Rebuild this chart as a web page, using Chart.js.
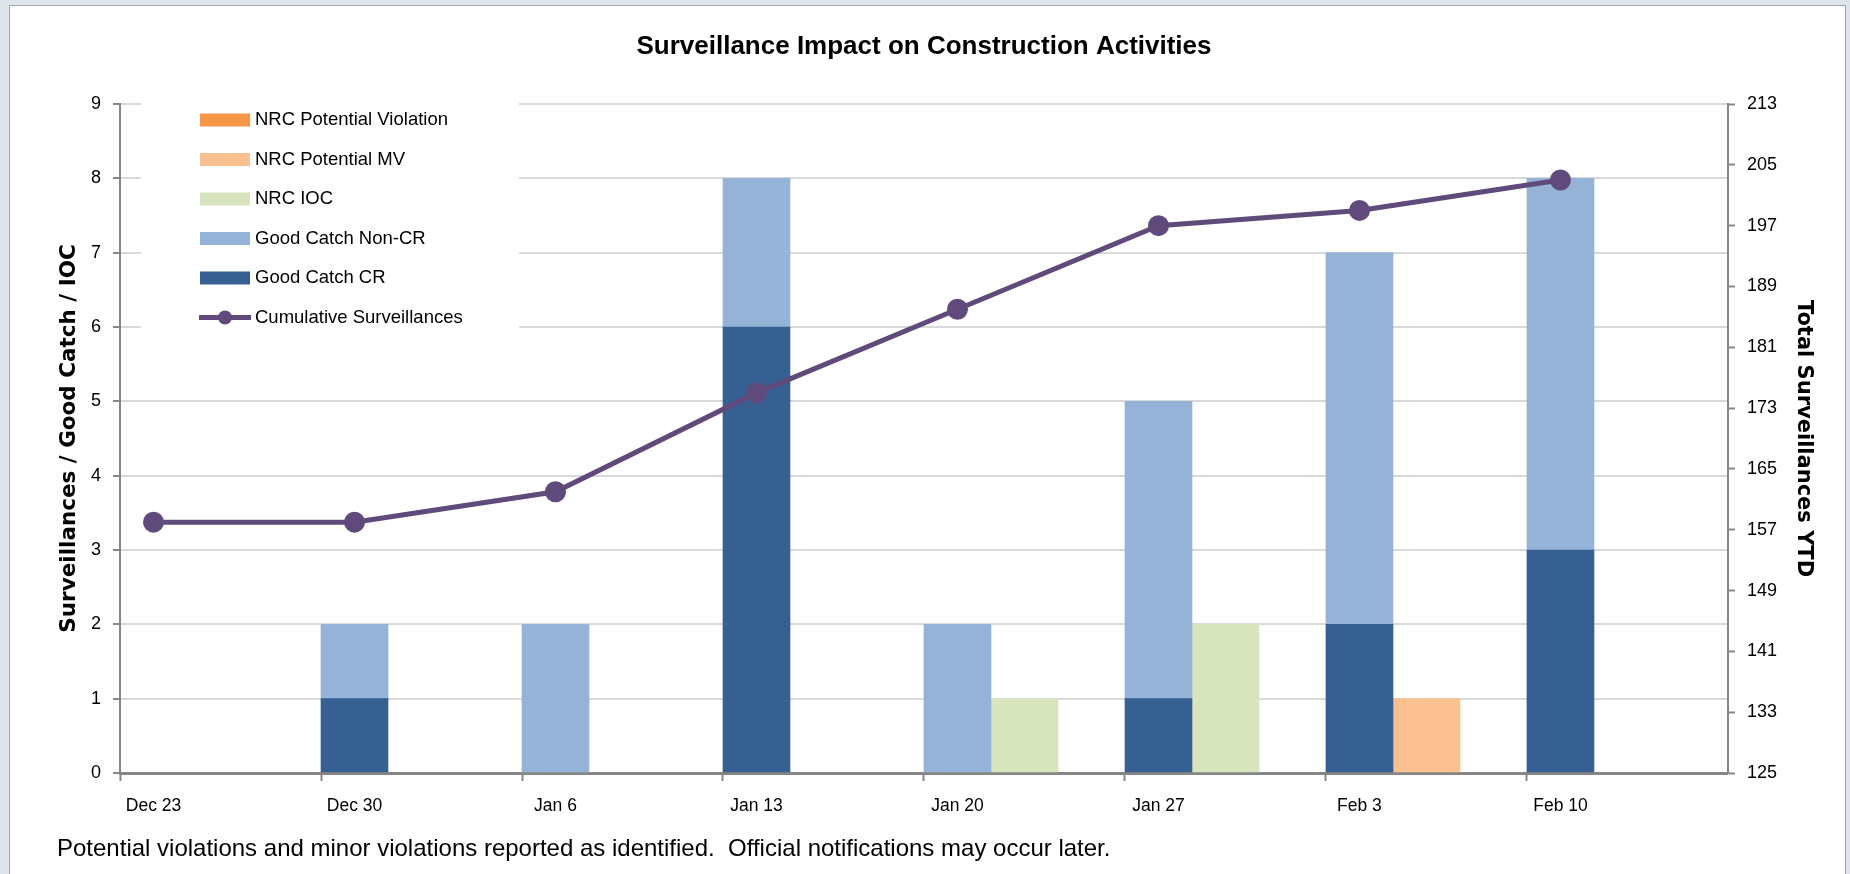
<!DOCTYPE html>
<html lang="en">
<head>
  <meta charset="UTF-8" />
  <title>Surveillance Impact on Construction Activities</title>
  <script src="https://cdn.jsdelivr.net/npm/chart.js"></script>
  <style>
    body {
      margin: 0;
      padding: 0;
      overflow: hidden;
      background: #dfe5ec;
      font-family: "Liberation Sans", Arial, sans-serif;
    }

    .frame {
      position: absolute;
      left: 9px;
      top: 5px;
      width: 1837px;
      height: 890px;
      background: #fff;
      border: 1px solid #a6a6a6;
      box-sizing: border-box;
    }

    .chart-container {
      position: absolute;
      left: 0;
      top: 0;
      width: 1850px;
      height: 874px;
    }
  </style>
</head>
<body>

  <div class="frame"></div>
  <div class="chart-container"><canvas id="surveillanceChart"></canvas></div>

  <script>
    const weeks = ['Dec 23', 'Dec 30', 'Jan 6', 'Jan 13', 'Jan 20', 'Jan 27', 'Feb 3', 'Feb 10'];
    const goodCatchCR = [0, 1, 0, 6, 0, 1, 2, 3];
    const goodCatchNonCR = [0, 1, 2, 2, 2, 4, 5, 5];
    const nrcIOC = [0, 0, 0, 0, 1, 2, 0, 0];
    const nrcPotentialMV = [0, 0, 0, 0, 0, 0, 1, 0];
    const nrcPotentialViolation = [0, 0, 0, 0, 0, 0, 0, 0];
    const cumulativeSurveillances = [158, 158, 162, 175, 186, 197, 199, 203];
    const leftTicks = [0, 1, 2, 3, 4, 5, 6, 7, 8, 9];
    const rightTicks = [125, 133, 141, 149, 157, 165, 173, 181, 189, 197, 205, 213];

    const noteText = 'Potential violations and minor violations reported as identified.  Official notifications may occur later.';

    // each week gets 3 slots: stacked good catches, NRC items, empty gap
    const slotLabels = [];
    weeks.forEach(w => slotLabels.push(w, '', ''));

    function toSlots(values, offset, keepZero) {
      const out = new Array(weeks.length * 3).fill(null);
      values.forEach((v, i) => {
        if (v || keepZero) out[i * 3 + offset] = v;
      });
      return out;
    }

    Chart.defaults.font.family = '"Liberation Sans", Arial, sans-serif';
    Chart.defaults.color = '#000';

    // legend drawn inside the plot, top left, like the original
    const insideLegend = {
      id: 'insideLegend',
      afterDraw(chart) {
        const { ctx, chartArea } = chart;
        const boxX = chartArea.left + 80;
        const textX = chartArea.left + 135;
        const firstY = chartArea.top + 16;
        const rowH = 39.5;

        ctx.save();
        ctx.fillStyle = '#fff';
        ctx.fillRect(chartArea.left + 21, chartArea.top - 8, 378, 244);

        const bars = chart.data.datasets.filter(d => d.type !== 'line').reverse();
        const lines = chart.data.datasets.filter(d => d.type === 'line');
        ctx.font = '18.5px "Liberation Sans", Arial, sans-serif';
        ctx.textBaseline = 'middle';
        ctx.textAlign = 'left';

        let y = firstY;
        bars.forEach(d => {
          ctx.fillStyle = d.backgroundColor;
          ctx.fillRect(boxX, y - 6.5, 50, 13);
          ctx.fillStyle = '#000';
          ctx.fillText(d.label, textX, y);
          y += rowH;
        });
        lines.forEach(d => {
          ctx.strokeStyle = d.borderColor;
          ctx.lineWidth = 5;
          ctx.beginPath();
          ctx.moveTo(boxX - 1, y);
          ctx.lineTo(boxX + 51, y);
          ctx.stroke();
          ctx.fillStyle = d.borderColor;
          ctx.beginPath();
          ctx.arc(boxX + 25, y, 7, 0, Math.PI * 2);
          ctx.fill();
          ctx.fillStyle = '#000';
          ctx.fillText(d.label, textX, y);
          y += rowH;
        });
        ctx.restore();
      }
    };

    const ctx = document.getElementById('surveillanceChart').getContext('2d');

    new Chart(ctx, {
      type: 'bar',
      data: {
        labels: slotLabels,
        datasets: [
          { label: 'Good Catch CR', data: toSlots(goodCatchCR, 0), backgroundColor: '#376092', order: 2 },
          { label: 'Good Catch Non-CR', data: toSlots(goodCatchNonCR, 0), backgroundColor: '#95B3D7', order: 2 },
          { label: 'NRC IOC', data: toSlots(nrcIOC, 1), backgroundColor: '#D7E4BD', order: 2 },
          { label: 'NRC Potential MV', data: toSlots(nrcPotentialMV, 1), backgroundColor: '#FAC090', order: 2 },
          { label: 'NRC Potential Violation', data: toSlots(nrcPotentialViolation, 1), backgroundColor: '#F79646', order: 2 },
          {
            type: 'line',
            label: 'Cumulative Surveillances',
            data: toSlots(cumulativeSurveillances, 0, true),
            yAxisID: 'y1',
            borderColor: '#604A7B',
            backgroundColor: '#604A7B',
            borderWidth: 5,
            pointRadius: 10.5,
            pointBorderWidth: 0,
            pointBackgroundColor: '#604A7B',
            spanGaps: true,
            tension: 0,
            order: 1
          }
        ]
      },
      options: {
        responsive: true,
        maintainAspectRatio: false,
        animation: false,
        datasets: {
          bar: { barPercentage: 1, categoryPercentage: 1, borderWidth: 0 }
        },
        layout: {
          autoPadding: false,
          padding: { left: 57, right: 30, top: 10, bottom: 5 }
        },
        plugins: {
          legend: { display: false },
          tooltip: { enabled: false },
          title: {
            display: true,
            fullSize: false,
            text: 'Surveillance Impact on Construction Activities',
            color: '#000',
            font: { size: 26, weight: 'bold' },
            padding: { top: 21.4, bottom: 41.4 }
          },
          subtitle: {
            display: true,
            position: 'bottom',
            align: 'start',
            text: noteText,
            color: '#000',
            font: { size: 24 },
            padding: { top: 2.6, bottom: 5.6 }
          }
        },
        scales: {
          x: {
            stacked: true,
            offset: true,
            grid: {
              offset: true,
              drawOnChartArea: false,
              drawTicks: true,
              tickLength: 8,
              tickWidth: 2,
              tickColor: c => (c.index % 3 === 0 ? '#868686' : 'rgba(0,0,0,0)')
            },
            border: { color: '#868686', width: 3 },
            ticks: {
              autoSkip: false,
              maxRotation: 0,
              minRotation: 0,
              padding: 15,
              color: '#000',
              font: { size: 17.5 }
            }
          },
          y: {
            stacked: true,
            position: 'left',
            min: leftTicks[0],
            max: leftTicks[leftTicks.length - 1],
            afterBuildTicks: s => { s.ticks = leftTicks.map(v => ({ value: v })); },
            grid: { color: '#D9D9D9', lineWidth: 2, tickLength: 7, tickColor: '#868686', tickWidth: 2 },
            border: { color: '#868686', width: 2 },
            ticks: { padding: 12, color: '#000', font: { size: 18 } },
            title: {
              display: true,
              text: 'Surveillances / Good Catch / IOC',
              color: '#000',
              font: { family: '"DejaVu Sans", Verdana, sans-serif', weight: 'bold', size: 21.5 },
              padding: { top: 0, bottom: -3.8 }
            }
          },
          y1: {
            position: 'right',
            min: rightTicks[0],
            max: rightTicks[rightTicks.length - 1],
            afterBuildTicks: s => { s.ticks = rightTicks.map(v => ({ value: v })); },
            grid: { drawOnChartArea: false, tickLength: 7, tickColor: '#868686', tickWidth: 2 },
            border: { color: '#868686', width: 2 },
            ticks: { padding: 12, color: '#000', font: { size: 18 } },
            title: {
              display: true,
              text: 'Total Surveillances YTD',
              color: '#000',
              font: { family: '"DejaVu Sans", Verdana, sans-serif', weight: 'bold', size: 21 },
              padding: { top: 4.4, bottom: 1.4 }
            }
          }
        }
      },
      plugins: [insideLegend]
    });
  </script>

</body>
</html>
